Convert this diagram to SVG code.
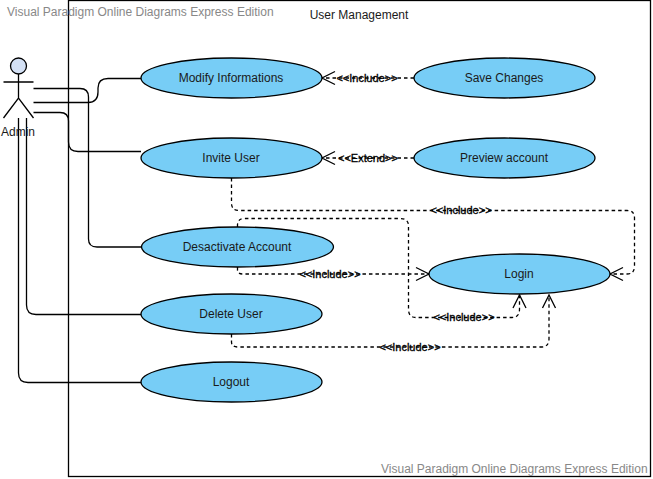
<svg xmlns="http://www.w3.org/2000/svg" width="653" height="479" viewBox="0 0 653 479">
<style>
text{font-family:"Liberation Sans",Arial,sans-serif;font-size:12px;fill:#1a1a1a}
.t{text-anchor:middle}
.wm{fill:#888}
.lb{font-size:11px;text-anchor:middle;fill:#000;stroke:#000;stroke-width:.3px}
.u{fill:#77cdf6;stroke:#000;stroke-width:1.3}
.c{fill:none;stroke:#000;stroke-width:1.3}
.d{fill:none;stroke:#000;stroke-width:1.3;stroke-dasharray:3.5 3}
.a{fill:none;stroke:#000;stroke-width:1.3}
</style>
<g id="system"><rect x="68.5" y="0.5" width="582" height="476" fill="#fff" stroke="#000" stroke-width="1.3"/><text class="t" x="359" y="19">User Management</text></g>
<g id="connectors">
<path class="c" d="M33.5 88.5H80Q88.5 88.5 88.5 97V239Q88.5 247 97 247H141"/>
<path class="c" d="M33.5 102.5H88Q98 102.500 98 92V88Q98 78.500 108 78.500H141"/>
<path class="c" d="M33.5 112.5H60Q68.500 112.500 68.500 121V142Q68.500 151.500 78 151.500H141"/>
<path class="c" d="M26.500 118V305Q26.500 314.500 36 314.500H141"/>
<path class="c" d="M18.500 118V373Q18.500 382.500 28 382.500H141"/>
<path class="d" d="M414 78H322"/>
<path class="a" d="M335 71.500L322 78L335 84.500"/>
<text class="lb" x="367" y="82">&lt;&lt;Include&gt;&gt;</text>
<path class="d" d="M414 158H322"/>
<path class="a" d="M335 151.500L322 158L335 164.500"/>
<text class="lb" x="368" y="162">&lt;&lt;Extend&gt;&gt;</text>
<path class="d" d="M231.500 178V203Q231.500 210.500 239 210.500H627Q634.500 210.500 634.500 218V266Q634.500 274 627 274H610"/>
<path class="a" d="M623 267.500L610 274L623 280.500"/>
<text class="lb" x="461" y="214">&lt;&lt;Include&gt;&gt;</text>
<path class="d" d="M237.500 227V225Q237.500 218.500 245 218.500H400Q408.500 218.500 408.500 226V309Q408.500 317.500 416 317.500H512Q519.500 317.500 519.500 309V295"/>
<path class="a" d="M513 308L519.500 295L526 308"/>
<text class="lb" x="464" y="321">&lt;&lt;Include&gt;&gt;</text>
<path class="d" d="M237.500 267V270Q237.500 274 243 274H429"/>
<path class="a" d="M416 267.500L429 274L416 280.500"/>
<text class="lb" x="330" y="278">&lt;&lt;Include&gt;&gt;</text>
<path class="d" d="M231.500 334V342Q231.500 347 238 347H541Q549 347 549 339V295"/>
<path class="a" d="M542.500 308L549 295L555.500 308"/>
<text class="lb" x="410" y="351">&lt;&lt;Include&gt;&gt;</text>
</g>
<g id="actor-admin"><circle cx="18.500" cy="66" r="8" fill="#d4e1f5" stroke="#000" stroke-width="1.300"/><path class="c" d="M18.500 74V98M3.500 82H33.500M3.500 118L18.500 98L33.500 118"/><text class="t" x="18" y="136">Admin</text></g>
<g id="uc-modify"><ellipse class="u" cx="231.500" cy="78" rx="90.500" ry="20"/><text class="t" x="231" y="82">Modify Informations</text></g>
<g id="uc-save"><ellipse class="u" cx="504.500" cy="78" rx="90.500" ry="20"/><text class="t" x="504" y="82">Save Changes</text></g>
<g id="uc-invite"><ellipse class="u" cx="231.500" cy="158" rx="90.500" ry="20"/><text class="t" x="231" y="162">Invite User</text></g>
<g id="uc-preview"><ellipse class="u" cx="504.500" cy="158" rx="90.500" ry="20"/><text class="t" x="504" y="162">Preview account</text></g>
<g id="uc-deactivate"><ellipse class="u" cx="237.500" cy="247" rx="96" ry="20"/><text class="t" x="237" y="251">Desactivate Account</text></g>
<g id="uc-login"><ellipse class="u" cx="519.500" cy="274" rx="90.500" ry="20"/><text class="t" x="519" y="278">Login</text></g>
<g id="uc-delete"><ellipse class="u" cx="231.500" cy="314" rx="90.500" ry="20"/><text class="t" x="231" y="318">Delete User</text></g>
<g id="uc-logout"><ellipse class="u" cx="231.500" cy="382" rx="90.500" ry="20"/><text class="t" x="231" y="386">Logout</text></g>
<g id="watermarks"><text class="wm" x="7" y="16">Visual Paradigm Online Diagrams Express Edition</text><text class="wm" x="381" y="473">Visual Paradigm Online Diagrams Express Edition</text></g>
</svg>
